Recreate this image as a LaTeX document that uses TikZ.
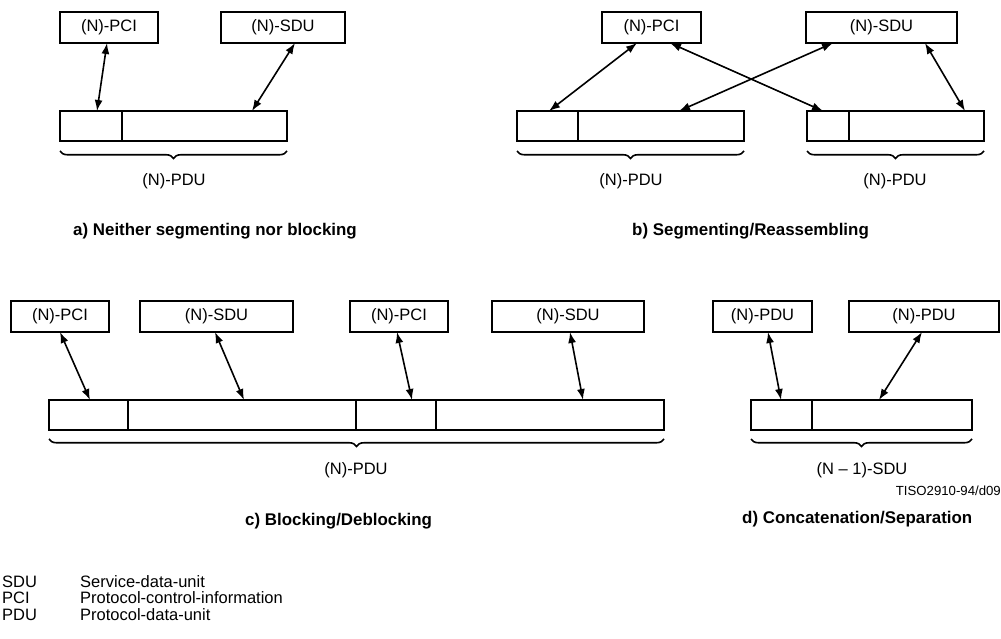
\documentclass[tikz,border=0pt]{standalone}
\usepackage{fontspec}
\setmainfont{Liberation Sans}
\usetikzlibrary{arrows.meta,decorations.pathreplacing}
\newcommand{\lblfont}{\fontsize{16.5}{19.8}\selectfont}
\newcommand{\capfont}{\fontsize{16.9}{20}\selectfont\bfseries}
\newcommand{\tagfont}{\fontsize{13.2}{15}\selectfont}
\begin{document}
\begin{tikzpicture}[x=1pt,y=-1pt,
  unitbox/.style={draw, line width=1.8pt, minimum height=31pt, inner sep=0pt,
    outer sep=0pt, anchor=north west, font=\lblfont},
  cell/.style={draw, line width=1.8pt, minimum height=30pt, inner sep=0pt,
    outer sep=0pt, anchor=north west},
  link/.style={line width=1.6pt, {Latex[length=11pt,width=8pt]}-{Latex[length=11pt,width=8pt]}},
  brc/.style={decorate, decoration={brace, amplitude=7.5pt}, line width=1.6pt},
  lbl/.style={font=\lblfont, inner sep=0pt},
  captext/.style={font=\capfont, inner sep=0pt, anchor=base west},
]
\useasboundingbox (0,0) rectangle (1001,639);

% ---- a) Neither segmenting nor blocking
\node[unitbox, minimum width=98pt]  (pciA) at (60,12)  {(N)-PCI};
\node[unitbox, minimum width=124pt] (sduA) at (221,12) {(N)-SDU};
\node[cell, minimum width=62pt]  (a1) at (60,111)  {};
\node[cell, minimum width=165pt] (a2) at (122,111) {};
\draw[link] ([xshift=47pt]pciA.south west) -- ([xshift=37pt]a1.north west);
\draw[link] ([xshift=74pt]sduA.south west) -- ([xshift=130pt]a2.north west);
\path (a2.south east) ++(0,10) coordinate (bA2) (a1.south west) ++(0,10) coordinate (bA1);
\draw[brc] (bA2) -- (bA1);
\node[lbl] (pduA) at (174,181) {(N)-PDU};
\node[captext] (capA) at (73,236) {a) Neither segmenting nor blocking};

% ---- b) Segmenting/Reassembling
\node[unitbox, minimum width=99pt]  (pciB) at (602,12) {(N)-PCI};
\node[unitbox, minimum width=151pt] (sduB) at (806,12) {(N)-SDU};
\node[cell, minimum width=61pt]  (b1) at (517,111) {};
\node[cell, minimum width=166pt] (b2) at (578,111) {};
\node[cell, minimum width=42pt]  (b3) at (807,111) {};
\node[cell, minimum width=135pt] (b4) at (849,111) {};
\draw[link] ([xshift=35pt]pciB.south west) -- ([xshift=32pt]b1.north west);
\draw[link] ([xshift=68pt]pciB.south west) -- ([xshift=16pt]b3.north west);
\draw[link] ([xshift=27pt]sduB.south west) -- ([xshift=101pt]b2.north west);
\draw[link] ([xshift=119pt]sduB.south west) -- ([xshift=116pt]b4.north west);
\path (b2.south east) ++(0,10) coordinate (bB2) (b1.south west) ++(0,10) coordinate (bB1);
\path (b4.south east) ++(0,10) coordinate (bB4) (b3.south west) ++(0,10) coordinate (bB3);
\draw[brc] (bB2) -- (bB1);
\draw[brc] (bB4) -- (bB3);
\node[lbl] (pduB1) at (631,181) {(N)-PDU};
\node[lbl] (pduB2) at (895,181) {(N)-PDU};
\node[captext] (capB) at (632,236) {b) Segmenting/Reassembling};

% ---- c) Blocking/Deblocking
\node[unitbox, minimum width=98pt]  (pciC1) at (11,301)  {(N)-PCI};
\node[unitbox, minimum width=153pt] (sduC1) at (140,301) {(N)-SDU};
\node[unitbox, minimum width=98pt]  (pciC2) at (350,301) {(N)-PCI};
\node[unitbox, minimum width=152pt] (sduC2) at (492,301) {(N)-SDU};
\node[cell, minimum width=79pt]  (c1) at (49,400)  {};
\node[cell, minimum width=228pt] (c2) at (128,400) {};
\node[cell, minimum width=80pt]  (c3) at (356,400) {};
\node[cell, minimum width=228pt] (c4) at (436,400) {};
\draw[link] ([xshift=49pt]pciC1.south west) -- ([xshift=41pt]c1.north west);
\draw[link] ([xshift=75pt]sduC1.south west) -- ([xshift=116pt]c2.north west);
\draw[link] ([xshift=47pt]pciC2.south west) -- ([xshift=56pt]c3.north west);
\draw[link] ([xshift=78pt]sduC2.south west) -- ([xshift=147pt]c4.north west);
\path (c4.south east) ++(0,9) coordinate (bC2) (c1.south west) ++(0,9) coordinate (bC1);
\draw[brc] (bC2) -- (bC1);
\node[lbl] (pduC) at (356,470) {(N)-PDU};
\node[captext] (capC) at (245,525) {c) Blocking/Deblocking};

% ---- d) Concatenation/Separation
\node[unitbox, minimum width=99pt]  (pduD1) at (713,301) {(N)-PDU};
\node[unitbox, minimum width=150pt] (pduD2) at (849,301) {(N)-PDU};
\node[cell, minimum width=61pt]  (d1) at (751,400) {};
\node[cell, minimum width=160pt] (d2) at (812,400) {};
\draw[link] ([xshift=55pt]pduD1.south west) -- ([xshift=30pt]d1.north west);
\draw[link] ([xshift=73pt]pduD2.south west) -- ([xshift=67pt]d2.north west);
\path (d2.south east) ++(0,9) coordinate (bD2) (d1.south west) ++(0,9) coordinate (bD1);
\draw[brc] (bD2) -- (bD1);
\node[lbl] (sduD) at (862,470) {(N -- 1)-SDU};
\node[font=\tagfont, inner sep=0pt, anchor=base east] (tag) at (1001,495) {TISO2910-94/d09};
\node[captext] (capD) at (742,523) {d) Concatenation/Separation};

% ---- abbreviations
\begin{scope}[every node/.style={font=\lblfont, inner sep=0pt, anchor=base west}]
\node (kSDU) at (2,587) {SDU};  \node (vSDU) at (80,587) {Service-data-unit};
\node (kPCI) at (2,603) {PCI};  \node (vPCI) at (80,603) {Protocol-control-information};
\node (kPDU) at (2,620) {PDU};  \node (vPDU) at (80,620) {Protocol-data-unit};
\end{scope}
\end{tikzpicture}
\end{document}
